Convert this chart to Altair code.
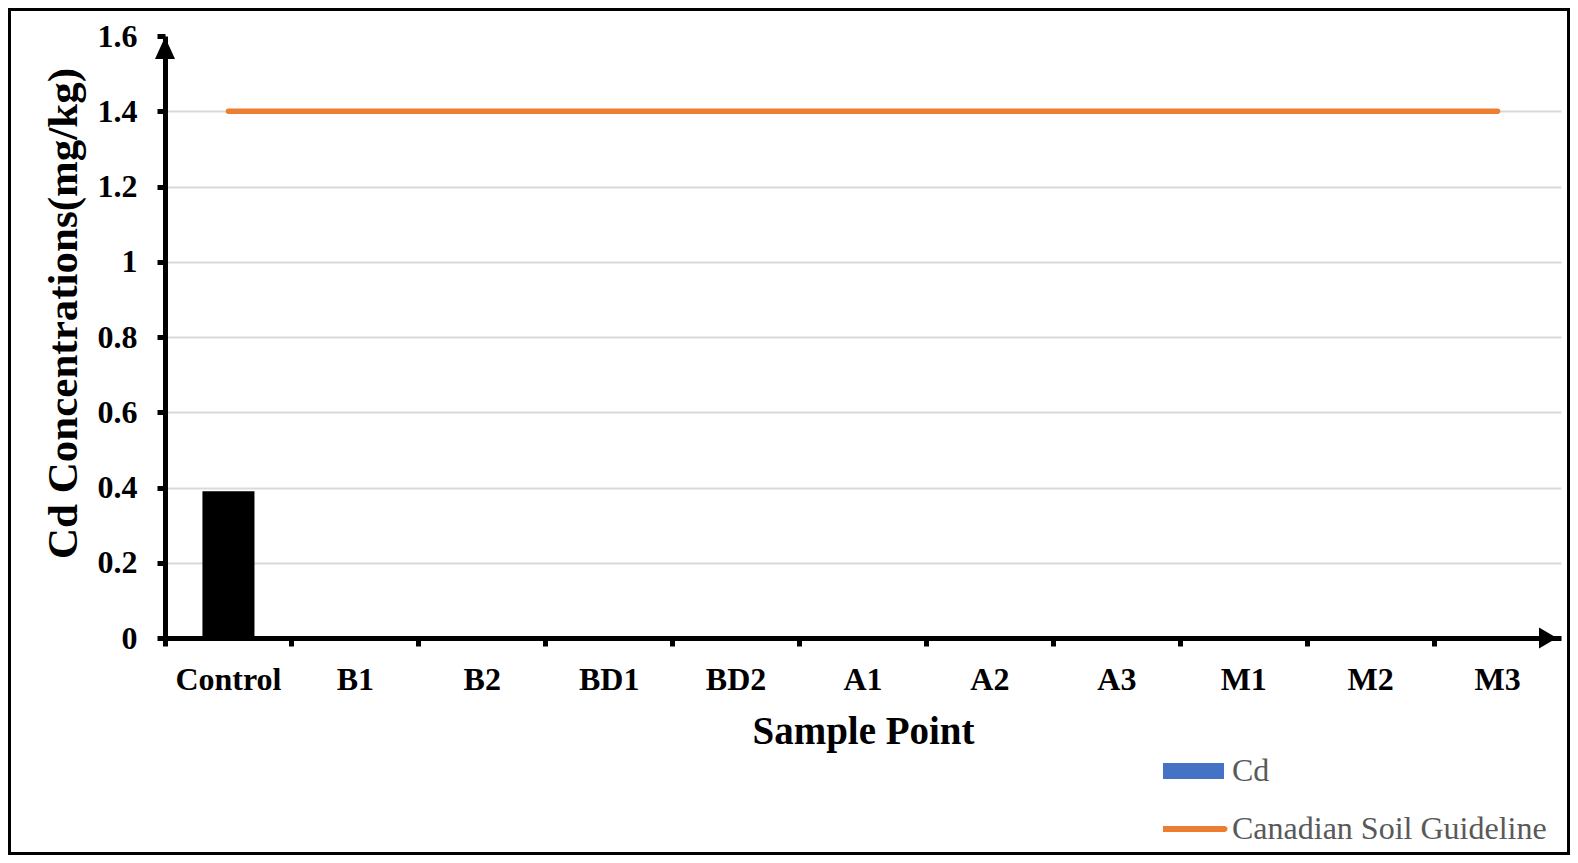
import altair as alt
import pandas as pd

# ---- data ----
categories = ["Control", "B1", "B2", "BD1", "BD2", "A1", "A2", "A3", "M1", "M2", "M3"]
cd_values = [0.39, 0, 0, 0, 0, 0, 0, 0, 0, 0, 0]
guideline_values = [1.4, 1.4, 1.4, 1.4, 1.4, 1.4, 1.4, 1.4, 1.4, 1.4, 1.4]
y_ticks = [0, 0.2, 0.4, 0.6, 0.8, 1.0, 1.2, 1.4, 1.6]
legend_labels = ["Cd", "Canadian Soil Guideline"]
legend_colors = ["#4472C4", "#ED7D31"]

df = pd.DataFrame({"sample": categories, "cd": cd_values, "guideline": guideline_values})
leg_df = pd.DataFrame({"series": legend_labels})
one = pd.DataFrame({"k": [0]})

FONT = "Liberation Serif"
W, H = 1396, 602

x_enc = alt.X(
    "sample:N",
    sort=categories,
    scale=alt.Scale(paddingInner=0, paddingOuter=0),
    axis=alt.Axis(
        title="Sample Point",
        labelAngle=0,
        labelFont=FONT, labelFontWeight="bold", labelFontSize=32, labelColor="black",
        labelBaseline="alphabetic", labelPadding=43,
        bandPosition=0, tickSize=8, tickWidth=5, tickColor="black",
        domainColor="black", domainWidth=5, grid=False,
        titleFont=FONT, titleFontWeight="bold", titleFontSize=39, titleColor="black",
        titleBaseline="alphabetic", titleY=105,
    ),
)

y_scale = alt.Scale(domain=[0, 1.6], nice=False, zero=True)
y_axis = alt.Axis(
    title="Cd Concentrations(mg/kg)",
    values=y_ticks,
    format=".1~f",
    labelFont=FONT, labelFontWeight="bold", labelFontSize=32, labelColor="black",
    labelPadding=20,
    tickSize=8, tickWidth=5, tickColor="black",
    domainColor="black", domainWidth=5,
    grid=True, gridWidth=2,
    gridColor={"condition": {"test": "datum.value > 1.5 || datum.value < 0.1", "value": "transparent"},
               "value": "#D9D9D9"},
    titleFont=FONT, titleFontWeight="bold", titleFontSize=43, titleColor="black",
    titleBaseline="alphabetic", titleX=-89, titleY=277, titleAngle=270,
)

base = alt.Chart(df)

bars = base.mark_bar(width=alt.RelativeBandSize(0.41), color="black").encode(
    x=x_enc,
    y=alt.Y("cd:Q", scale=y_scale, axis=y_axis),
)

line = base.mark_line(color="#ED7D31", strokeWidth=5.5, strokeCap="round").encode(
    x=alt.X("sample:N", sort=categories),
    y=alt.Y("guideline:Q"),
)

rect_path = "M-1,-0.262H1V0.262H-1Z"
line_path = ("M-1.016,-0.098H1.016A0.098,0.098 0 0 1 1.016,0.098"
             "H-1.016A0.098,0.098 0 0 1 -1.016,-0.098Z")

leg = alt.Legend(
    title=None, orient="none", legendX=998, legendY=707,
    labelFont=FONT, labelFontSize=32, labelColor="#595959", labelLimit=500,
    symbolSize=3721, clipHeight=56, rowPadding=2, labelOffset=8,
    symbolStrokeWidth=0,
)

legend_layer = alt.Chart(leg_df).mark_point(filled=True, opacity=1).encode(
    color=alt.Color("series:N", scale=alt.Scale(domain=legend_labels, range=legend_colors), legend=leg),
    shape=alt.Shape("series:N", scale=alt.Scale(domain=legend_labels, range=[rect_path, line_path]), legend=leg),
).transform_filter("false")

arrow_up = alt.Chart(one).mark_point(
    filled=True, color="black", opacity=1, size=625,
    shape="M0,0.08L0.8,1.84L-0.8,1.84Z",
).encode(x=alt.value(0), y=alt.value(0))

arrow_right = alt.Chart(one).mark_point(
    filled=True, color="black", opacity=1, size=400,
    shape="M-0.4,0L-2.2,-1.05L-2.2,1.05Z",
).encode(x=alt.value(W), y=alt.value(H))

border = alt.Chart(one).mark_rect(fillOpacity=0, stroke="black", strokeWidth=3).encode(
    x=alt.value(-155.5), x2=alt.value(1403.5), y=alt.value(-26.5), y2=alt.value(817.5)
)

chart = alt.layer(bars, line, legend_layer, arrow_up, arrow_right, border).properties(
    width=W, height=H,
    autosize=alt.AutoSizeParams(type="none"),
    padding={"left": 157, "top": 28, "right": 9, "bottom": 217},
    background="white",
).configure_view(stroke=None)

chart.save("out.html", embed_options={"renderer": "svg", "actions": False})
